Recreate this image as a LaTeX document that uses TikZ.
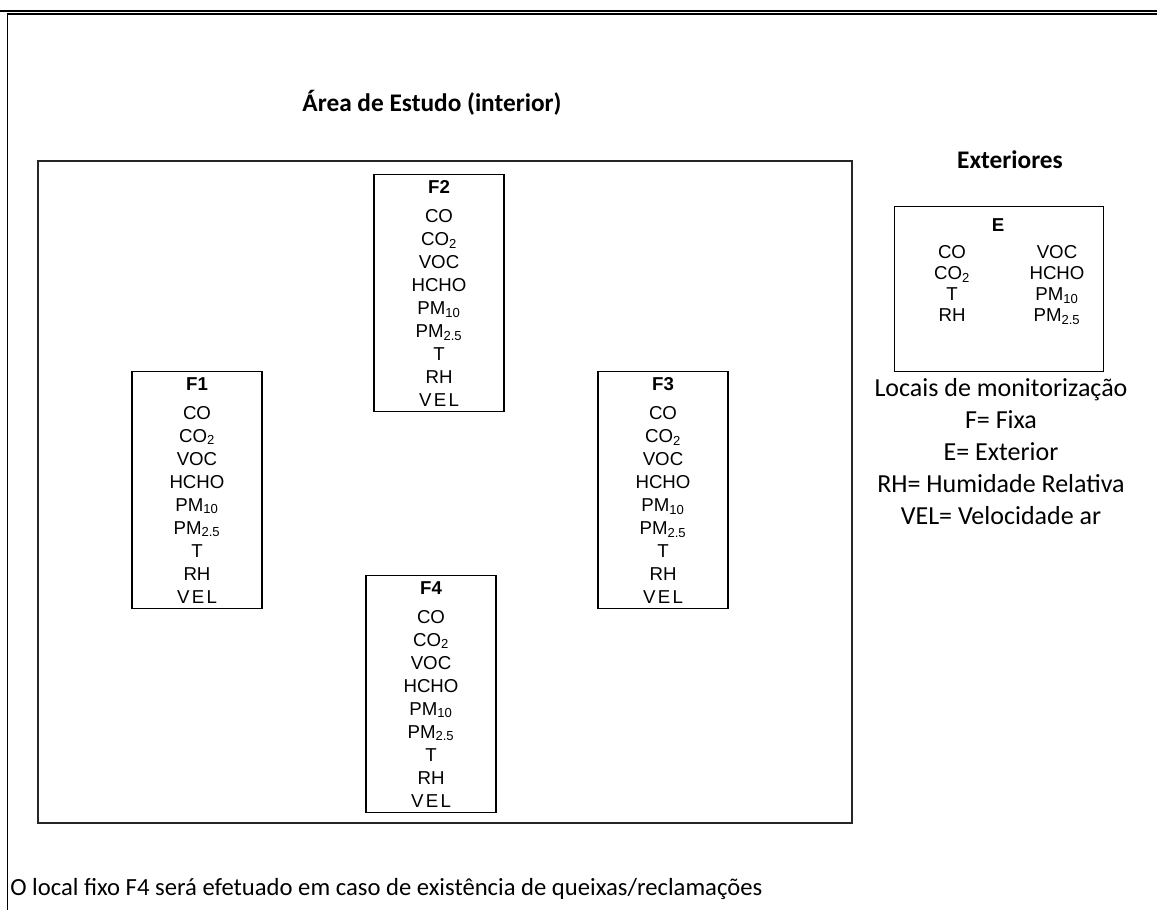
\documentclass[tikz,border=0pt]{standalone}
\usepackage{fontspec}
\setmainfont{Carlito}
\newfontfamily\arialfont{Liberation Sans}
\newcommand{\gaslist}{CO\\CO\textsubscript{2}\\VOC\\HCHO\\PM\textsubscript{10}\\PM\textsubscript{2.5}\\T\\RH\\{\addfontfeature{LetterSpace=12}VEL}}
\newcommand{\sitelist}[1]{\textbf{#1}\\[4.5pt]\gaslist}
\tikzset{
  site/.style={draw, line width=0.9pt, minimum width=97.5pt, minimum height=177.75pt,
    inner sep=0pt, anchor=north, align=center,
    font={\arialfont\fontsize{14}{17.25}\selectfont}},
  gascol/.style={align=center, inner sep=0pt, anchor=north, font={\arialfont\fontsize{14}{15.75}\selectfont}},
  legend/.style={align=center, inner sep=0pt, font={\fontsize{19.5}{24}\selectfont}},
  heading/.style={inner sep=0pt, font={\bfseries\fontsize{19}{24}\selectfont}}
}
\begin{document}
\begin{tikzpicture}[x=0.75pt, y=-0.75pt]
  \useasboundingbox (0,0) rectangle (1157,910);
  % frame of the page
  \draw[line width=1.3pt] (0,10.7) -- (1157,10.7);
  \draw[line width=1.3pt] (7.5,910) -- (7.5,14.2) -- (1157,14.2);
  % study area
  \node[heading] (area) at (432,103) {Área de Estudo (interior)};
  \draw[line width=1.2pt, black!85] (38,161) rectangle (852,823);
  \node[site] (f2) at (439,174) {\sitelist{F2}};
  \node[site] (f1) at (197,371) {\sitelist{F1}};
  \node[site] (f3) at (663,371) {\sitelist{F3}};
  \node[site] (f4) at (431,575) {\sitelist{F4}};
  % outdoor
  \node[heading] (ext) at (1010,160) {Exteriores};
  \node[draw, line width=0.9pt, anchor=north west, minimum width=156.75pt,
    minimum height=123.75pt, inner sep=0pt] (e) at (894,206) {};
  \node[gascol, anchor=center, font={\arialfont\bfseries\fontsize{14}{15.75}\selectfont}] (etitle) at (998,225) {E};
  \node[gascol] (eleft) at (952,245) {CO\\CO\textsubscript{2}\\T\\RH};
  \node[gascol] (eright) at (1057,245) {VOC\\HCHO\\PM\textsubscript{10}\\PM\textsubscript{2.5}};
  \node[legend] (key) at (1001,452) {Locais de monitorização\\F= Fixa\\E= Exterior\\RH= Humidade Relativa\\VEL= Velocidade ar};
  % note
  \node[legend, anchor=west, font={\fontsize{18.5}{24}\selectfont}] (note) at (10,889) {O local fixo F4 será efetuado em caso de existência de queixas/reclamações};
\end{tikzpicture}
\end{document}
